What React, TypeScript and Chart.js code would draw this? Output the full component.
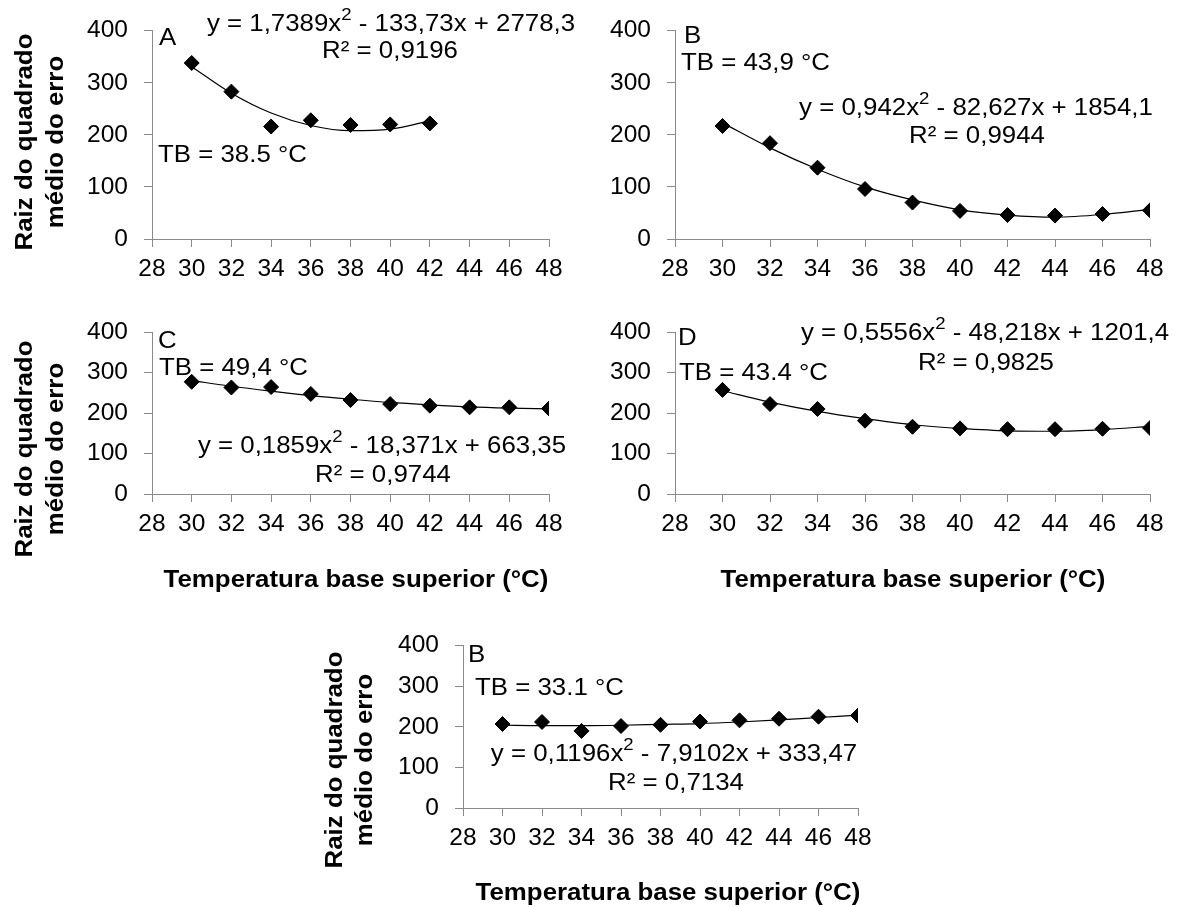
import React, { useEffect, useRef } from "react";
import { Chart, registerables } from "chart.js";

Chart.register(...registerables);

// ---------------- data ----------------
const temps = [30, 32, 34, 36, 38, 40, 42, 44, 46, 48];
const tempsA = [30, 32, 34, 36, 38, 40, 42];

const obsA = [338, 283, 216, 228, 219, 220, 222];
const trendA = [331, 280, 242, 218, 208, 211, 227];

const obsB = [217, 184, 137, 96, 70, 54, 46, 45, 48, 55];
const trendB = [223, 175, 134, 100, 75, 56, 46, 42, 47, 57];

const obsC = [277, 263, 264, 247, 232, 222, 218, 214, 214, 211];
const trendC = [280, 266, 254, 243, 234, 226, 220, 215, 212, 210];

const obsD = [257, 222, 210, 181, 166, 162, 160, 160, 161, 163];
const trendD = [255, 227, 204, 186, 171, 162, 156, 155, 159, 167];

const obsE = [207, 212, 190, 202, 205, 213, 216, 220, 225, 228];
const trendE = [204, 203, 203, 204, 206, 208, 212, 217, 223, 229];

const xMin = 28;
const xMax = 48;
const xStep = 2;
const yMin = 0;
const yMax = 400;
const yStep = 100;

const panelLetters = ["A", "B", "C", "D", "B"];
const tbLabels = ["TB = 38.5 °C", "TB = 43,9 °C", "TB = 49,4 °C", "TB = 43.4 °C", "TB = 33.1 °C"];
const equations = [
  "y = 1,7389x^2 - 133,73x + 2778,3",
  "y = 0,942x^2 - 82,627x + 1854,1",
  "y = 0,1859x^2 - 18,371x + 663,35",
  "y = 0,5556x^2 - 48,218x + 1201,4",
  "y = 0,1196x^2 - 7,9102x + 333,47",
];
const r2Labels = ["R² = 0,9196", "R² = 0,9944", "R² = 0,9744", "R² = 0,9825", "R² = 0,7134"];
const yTitleLines = ["Raiz do quadrado", "médio do erro"];
const xTitle = "Temperatura base superior (°C)";

// ---------------- layout ----------------
const FONT = "'Liberation Sans', Arial, Helvetica, sans-serif";
const TXT = 23.5;
const TICK = 24.5;
const STRETCH = 1.1;
const AXIS_COLOR = "#8a8a8a";

type Pos = { x: number; y: number };
type PanelLayout = {
  canvas: { left: number; top: number; w: number; h: number };
  area: { left: number; top: number; right: number; bottom: number };
  letter: Pos;
  tb: Pos;
  eq: Pos;
  r2: Pos;
  yTitle?: { x1: number; x2: number; y: number };
  xTitle?: Pos;
};

const layouts: PanelLayout[] = [
  {
    canvas: { left: 0, top: 0, w: 590, h: 300 },
    area: { left: 152, top: 27, right: 549, bottom: 239 },
    letter: { x: 159, y: 45 },
    tb: { x: 158, y: 162 },
    eq: { x: 391, y: 31 },
    r2: { x: 390, y: 58 },
    yTitle: { x1: 26, x2: 57, y: 142 },
  },
  {
    canvas: { left: 590, top: 0, w: 593, h: 300 },
    area: { left: 675, top: 27, right: 1150, bottom: 239 },
    letter: { x: 684, y: 43 },
    tb: { x: 681, y: 70 },
    eq: { x: 976, y: 115 },
    r2: { x: 977, y: 143 },
  },
  {
    canvas: { left: 0, top: 300, w: 590, h: 310 },
    area: { left: 152, top: 332, right: 549, bottom: 494 },
    letter: { x: 158, y: 348 },
    tb: { x: 159, y: 375 },
    eq: { x: 382, y: 453 },
    r2: { x: 383, y: 482 },
    yTitle: { x1: 26, x2: 57, y: 449 },
    xTitle: { x: 356, y: 587 },
  },
  {
    canvas: { left: 590, top: 300, w: 593, h: 310 },
    area: { left: 675, top: 332, right: 1150, bottom: 494 },
    letter: { x: 678, y: 345 },
    tb: { x: 679, y: 380 },
    eq: { x: 985, y: 340 },
    r2: { x: 986, y: 370 },
    xTitle: { x: 913, y: 587 },
  },
  {
    canvas: { left: 300, top: 615, w: 590, h: 292 },
    area: { left: 463, top: 644, right: 858, bottom: 808 },
    letter: { x: 468, y: 662 },
    tb: { x: 475, y: 695 },
    eq: { x: 674, y: 761 },
    r2: { x: 676, y: 790 },
    yTitle: { x1: 336, x2: 366, y: 760 },
    xTitle: { x: 668, y: 900 },
  },
];

const panelData = [
  { xs: tempsA, obs: obsA, trend: trendA },
  { xs: temps, obs: obsB, trend: trendB },
  { xs: temps, obs: obsC, trend: trendC },
  { xs: temps, obs: obsD, trend: trendD },
  { xs: temps, obs: obsE, trend: trendE },
];

// ---------------- text drawing ----------------
function drawRich(
  ctx: CanvasRenderingContext2D,
  text: string,
  x: number,
  y: number,
  opts: { align?: "left" | "center"; bold?: boolean; size?: number; rotate?: boolean; baseline?: CanvasTextBaseline }
) {
  const size = opts.size ?? TXT;
  const bold = opts.bold ? "bold " : "";
  const parts = text.split("^2");
  const segs: { t: string; sup: boolean }[] = [];
  parts.forEach((p, i) => {
    if (i > 0) segs.push({ t: "2", sup: true });
    segs.push({ t: p, sup: false });
  });
  ctx.save();
  ctx.translate(x, y);
  if (opts.rotate) ctx.rotate(-Math.PI / 2);
  ctx.scale(STRETCH, 1);
  ctx.fillStyle = "#000";
  ctx.textAlign = "left";
  ctx.textBaseline = opts.baseline ?? "alphabetic";
  const widths = segs.map((s) => {
    ctx.font = `${bold}${s.sup ? size * 0.72 : size}px ${FONT}`;
    return ctx.measureText(s.t).width;
  });
  const total = widths.reduce((a, b) => a + b, 0);
  let cx = opts.align === "center" ? -total / 2 : 0;
  segs.forEach((s, i) => {
    ctx.font = `${bold}${s.sup ? size * 0.72 : size}px ${FONT}`;
    ctx.fillText(s.t, cx, s.sup ? -size * 0.46 : 0);
    cx += widths[i];
  });
  ctx.restore();
}

function makeTextPlugin(idx: number) {
  const L = layouts[idx];
  return {
    id: "panelText" + idx,
    afterDraw(chart: any) {
      const ctx: CanvasRenderingContext2D = chart.ctx;
      const ox = L.canvas.left;
      const oy = L.canvas.top;
      drawRich(ctx, panelLetters[idx], L.letter.x - ox, L.letter.y - oy, {});
      drawRich(ctx, tbLabels[idx], L.tb.x - ox, L.tb.y - oy, {});
      drawRich(ctx, equations[idx], L.eq.x - ox, L.eq.y - oy, { align: "center" });
      drawRich(ctx, r2Labels[idx], L.r2.x - ox, L.r2.y - oy, { align: "center" });
      if (L.yTitle) {
        drawRich(ctx, yTitleLines[0], L.yTitle.x1 - ox, L.yTitle.y - oy, {
          align: "center",
          bold: true,
          rotate: true,
          baseline: "middle",
        });
        drawRich(ctx, yTitleLines[1], L.yTitle.x2 - ox, L.yTitle.y - oy, {
          align: "center",
          bold: true,
          rotate: true,
          baseline: "middle",
        });
      }
      if (L.xTitle) {
        drawRich(ctx, xTitle, L.xTitle.x - ox, L.xTitle.y - oy, { align: "center", bold: true });
      }
    },
  };
}

function Panel({ idx }: { idx: number }) {
  const ref = useRef<HTMLCanvasElement | null>(null);
  const L = layouts[idx];
  useEffect(() => {
    if (!ref.current) return;
    const d = panelData[idx];
    const yW = L.area.left - L.canvas.left;
    const xH = L.canvas.top + L.canvas.h - L.area.bottom;
    const padTop = L.area.top - L.canvas.top;
    const padRight = L.canvas.left + L.canvas.w - L.area.right;
    const chart = new Chart(ref.current, {
      type: "scatter",
      data: {
        datasets: [
          {
            label: "trend",
            data: d.xs.map((x, i) => ({ x, y: d.trend[i] })),
            showLine: true,
            borderColor: "#000",
            borderWidth: 1.2,
            pointRadius: 0,
            cubicInterpolationMode: "monotone",
            order: 2,
          } as any,
          {
            label: "obs",
            data: d.xs.map((x, i) => ({ x, y: d.obs[i] })),
            showLine: false,
            pointStyle: "rectRot",
            pointRadius: 7.5,
            pointBorderWidth: 1,
            pointBackgroundColor: "#000",
            pointBorderColor: "#000",
            order: 1,
          } as any,
        ],
      },
      options: {
        animation: false,
        responsive: false,
        devicePixelRatio: 1,
        events: [],
        layout: { padding: { top: padTop, right: padRight, left: 0, bottom: 0 } },
        plugins: { legend: { display: false }, tooltip: { enabled: false }, title: { display: false } },
        scales: {
          x: {
            type: "linear",
            min: xMin,
            max: xMax,
            ticks: {
              stepSize: xStep,
              color: "#000",
              font: { family: FONT, size: TICK },
              padding: 8,
              maxRotation: 0,
              autoSkip: false,
            },
            grid: { drawOnChartArea: false, drawTicks: true, tickLength: 8, color: AXIS_COLOR },
            border: { color: AXIS_COLOR, width: 1 },
            afterFit: (s: any) => {
              s.height = xH;
            },
          },
          y: {
            min: yMin,
            max: yMax,
            ticks: {
              stepSize: yStep,
              color: "#000",
              font: { family: FONT, size: TICK },
              padding: 16,
            },
            grid: { drawOnChartArea: false, drawTicks: true, tickLength: 8, color: AXIS_COLOR },
            border: { color: AXIS_COLOR, width: 1 },
            afterFit: (s: any) => {
              s.width = yW;
            },
          },
        },
      } as any,
      plugins: [makeTextPlugin(idx)],
    });
    return () => chart.destroy();
  }, [idx]);
  return (
    <canvas
      ref={ref}
      width={L.canvas.w}
      height={L.canvas.h}
      style={{ position: "absolute", left: L.canvas.left, top: L.canvas.top, width: L.canvas.w, height: L.canvas.h }}
    />
  );
}

export default function App() {
  return (
    <div style={{ position: "absolute", left: 0, top: 0, width: 1183, height: 907, background: "#fff", overflow: "hidden" }}>
      {layouts.map((_, i) => (
        <Panel key={i} idx={i} />
      ))}
    </div>
  );
}
